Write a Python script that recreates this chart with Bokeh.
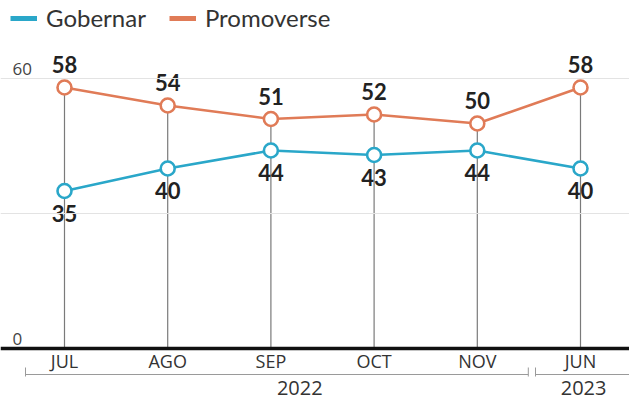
from bokeh.plotting import figure
from bokeh.models import Range1d, Span, Legend, LegendItem
from bokeh.core.properties import value
from bokeh.embed import file_html
from bokeh.resources import INLINE

# ---- data ----
months = ["JUL", "AGO", "SEP", "OCT", "NOV", "JUN"]
gobernar = [35, 40, 44, 43, 44, 40]
promoverse = [58, 54, 51, 52, 50, 58]
years = ["2022", "2023"]
year_first_idx = [0, 5]
year_last_idx = [4, 5]
y_grid = [30, 60]
y_tick_values = [0, 60]
y_tick_labels = ["0", "60"]

# ---- layout (pixels) ----
W, H = 629, 402
X0, DX = 64.0, 103.2     # pixel x of first month, spacing
Y0, DY = 348.0, 4.5      # pixel y of value 0, px per unit

BLUE = "#2aa7c9"
ORANGE = "#e07b57"
TXT = "#222222"

xr = Range1d(-X0 / DX, (W - X0) / DX)
yr = Range1d((Y0 - H) / DY, Y0 / DY)

p = figure(width=W, height=H, x_range=xr, y_range=yr, output_backend="svg",
           toolbar_location=None, x_axis_location=None, y_axis_location=None,
           min_border=0, outline_line_color=None)
p.grid.visible = False
p.background_fill_color = "white"

xs = list(range(len(months)))

# grid lines
for g in y_grid:
    p.add_layout(Span(location=g, dimension="width", line_color="#e3e3e3", line_width=1.2))

# vertical drop lines
tops = [max(a, b) for a, b in zip(gobernar, promoverse)]
p.segment(x0=xs, y0=[0] * len(xs), x1=xs, y1=tops, line_color="#7a7a7a", line_width=1.2)

# baseline
p.add_layout(Span(location=0, dimension="width", line_color="#111111", line_width=3.5))

# series
for vals, col in ((promoverse, ORANGE), (gobernar, BLUE)):
    p.line(xs, vals, line_color=col, line_width=2.6)
    p.scatter(xs, vals, size=14, marker="circle", fill_color="white",
              line_color=col, line_width=2.6)

# value labels
p.text(xs, promoverse, text=[str(v) for v in promoverse], text_align="center",
       text_baseline="middle", y_offset=-23, text_font=value("Lato"),
       text_font_style="bold", text_font_size="22px", text_color=TXT)
p.text(xs, gobernar, text=[str(v) for v in gobernar], text_align="center",
       text_baseline="middle", y_offset=22, text_font=value("Lato"),
       text_font_style="bold", text_font_size="22px", text_color=TXT)

# month labels
p.text(xs, [0] * len(xs), text=months, text_align="center", text_baseline="middle",
       y_offset=12, text_font=value("Open Sans"), text_font_size="18px",
       text_color="#333333")

# y labels
p.text([xr.start] * len(y_tick_values), y_tick_values, text=y_tick_labels,
       text_align="left", text_baseline="middle", x_offset=12, y_offset=-10,
       text_font=value("Open Sans"), text_font_size="17px", text_color="#444444")

# year brackets
left_pad = (64 - 25) / DX
right_pad = (528 - 477) / DX
bx0, bx1 = [], []
for i, (a, b) in enumerate(zip(year_first_idx, year_last_idx)):
    bx0.append(a - left_pad if i == 0 else a - (580 - 535) / DX)
    bx1.append(b + right_pad if i < len(years) - 1 else xr.end)
by = -26 / DY
bt = -19 / DY
p.segment(x0=bx0, y0=[by] * len(bx0), x1=bx1, y1=[by] * len(bx0),
          line_color="#9a9a9a", line_width=1)
tick_x = bx0 + [bx1[0]]
p.segment(x0=tick_x, y0=[bt] * len(tick_x), x1=tick_x, y1=[by - 2 / DY] * len(tick_x),
          line_color="#9a9a9a", line_width=1)
year_x = [2.28, 5.03]
p.text(year_x, [0, 0], text=years, text_align="center", text_baseline="middle",
       y_offset=39, text_font=value("Open Sans"), text_font_size="20px",
       text_color="#333333")

# legend
nan = float("nan")
rb = p.line([nan, nan], [nan, nan], line_color=BLUE, line_width=5)
ro = p.line([nan, nan], [nan, nan], line_color=ORANGE, line_width=5)
leg = Legend(items=[LegendItem(label="Gobernar", renderers=[rb]),
                    LegendItem(label="Promoverse", renderers=[ro])],
             orientation="horizontal", location=(10, H - 32), padding=0, margin=0,
             spacing=23, glyph_width=27, glyph_height=16, label_height=16,
             label_standoff=9, label_text_font="Lato", label_text_font_size="24px",
             label_text_color="#333333", border_line_color=None,
             background_fill_alpha=0)
p.add_layout(leg)

open("out.html", "w").write(file_html(p, INLINE))
